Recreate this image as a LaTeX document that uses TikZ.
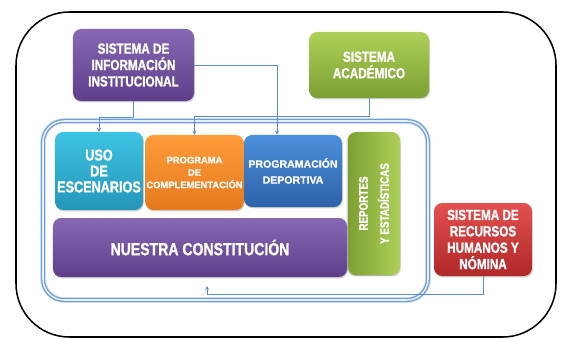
\documentclass[tikz,border=0pt]{standalone}
\usepackage{fontspec}
\newfontfamily\boxfont[FakeStretch=0.8, BoldFeatures={FakeBold=1.2}]{Liberation Sans}
\newfontfamily\smallboxfont[BoldFeatures={FakeBold=1}]{Liberation Sans}
\usetikzlibrary{shadows}

\definecolor{siutop}{RGB}{134,104,180}
\definecolor{siubot}{RGB}{94,62,138}
\definecolor{acatop}{RGB}{174,208,88}
\definecolor{acabot}{RGB}{124,160,50}
\definecolor{usotop}{RGB}{62,195,228}
\definecolor{usobot}{RGB}{37,150,184}
\definecolor{comtop}{RGB}{255,155,58}
\definecolor{combot}{RGB}{228,122,30}
\definecolor{deptop}{RGB}{75,143,219}
\definecolor{depbot}{RGB}{46,98,168}
\definecolor{rrhtop}{RGB}{226,80,79}
\definecolor{rrhbot}{RGB}{176,40,40}
\definecolor{linkblue}{RGB}{91,143,203}
\definecolor{contblue}{RGB}{110,158,214}

\begin{document}
\begin{tikzpicture}[x=0.03cm, y=-0.03cm,
  box/.style={rounded corners=7pt, align=center, text=white, inner sep=1pt,
    drop shadow={opacity=0.35, shadow xshift=0.8pt, shadow yshift=-1.2pt}},
  bigtext/.style={font={\boxfont\bfseries\fontsize{12.5}{14}\selectfont}},
  smalltext/.style={font={\smallboxfont\bfseries\fontsize{8}{10.6}\selectfont}},
  link/.style={draw=linkblue, line width=0.6pt, ->, >=stealth}]
\useasboundingbox (0,0) rectangle (563,339);

\draw[line width=1.3pt, rounded corners=1.6cm] (16,12) rectangle (556,337);

\draw[contblue!25, line width=5pt, rounded corners=18pt] (43,121) rectangle (428,300);
\draw[contblue, line width=1.1pt, double=contblue!15, double distance=1.3pt, rounded corners=18pt] (43,121) rectangle (428,300);

\node[box, bigtext, top color=siutop, bottom color=siubot, minimum width=3.63cm, minimum height=2.16cm] (siu) at (133.5,65) {SISTEMA DE\\INFORMACIÓN\\INSTITUCIONAL};
\node[box, bigtext, top color=acatop, bottom color=acabot, minimum width=3.6cm, minimum height=1.98cm] (acad) at (369,65) {SISTEMA\\ACADÉMICO};

\node[box, font={\boxfont\bfseries\fontsize{13.5}{13.6}\selectfont}, top color=usotop, bottom color=usobot, minimum width=2.64cm, minimum height=2.34cm] (uso) at (99,171) {USO\\DE\\ESCENARIOS};
\node[box, smalltext, top color=comtop, bottom color=combot, minimum width=2.85cm, minimum height=2.25cm] (compl) at (194.5,172.5) {PROGRAMA\\DE\\COMPLEMENTACIÓN};
\node[box, font={\smallboxfont\bfseries\fontsize{9}{13.6}\selectfont}, top color=deptop, bottom color=depbot, minimum width=2.94cm, minimum height=2.16cm] (deport) at (293,171) {PROGRAMACIÓN\\DEPORTIVA};
\node[box, font={\boxfont\bfseries\fontsize{10.5}{18}\selectfont}, rotate=90, left color=acabot, right color=acatop, minimum width=4.29cm, minimum height=1.56cm,
  drop shadow={opacity=0.35, shadow xshift=-1.2pt, shadow yshift=-0.8pt}] (report) at (374,203.5) {REPORTES\\Y ESTADÍSTICAS};
\node[box, font={\boxfont\bfseries\fontsize{15}{16}\selectfont}, top color=siutop, bottom color=siubot, minimum width=8.82cm, minimum height=1.77cm] (const) at (200,247.5) {NUESTRA CONSTITUCIÓN};

\node[box, bigtext, top color=rrhtop, bottom color=rrhbot, minimum width=2.94cm, minimum height=2.19cm] (rrhh) at (483,239.5) {SISTEMA DE\\RECURSOS\\HUMANOS Y\\NÓMINA};

\coordinate (ret) at (207,286);

\draw[link] (siu.south) -- ++(0,16) -| (uso.north);
\draw[link] (siu.east) -| ([xshift=-0.48cm]deport.north);
\draw[link] (acad.south) -- ++(0,18) -| (compl.north);
\draw[link] (rrhh.south) -- ++(0,18) -| (ret);
\end{tikzpicture}
\end{document}
